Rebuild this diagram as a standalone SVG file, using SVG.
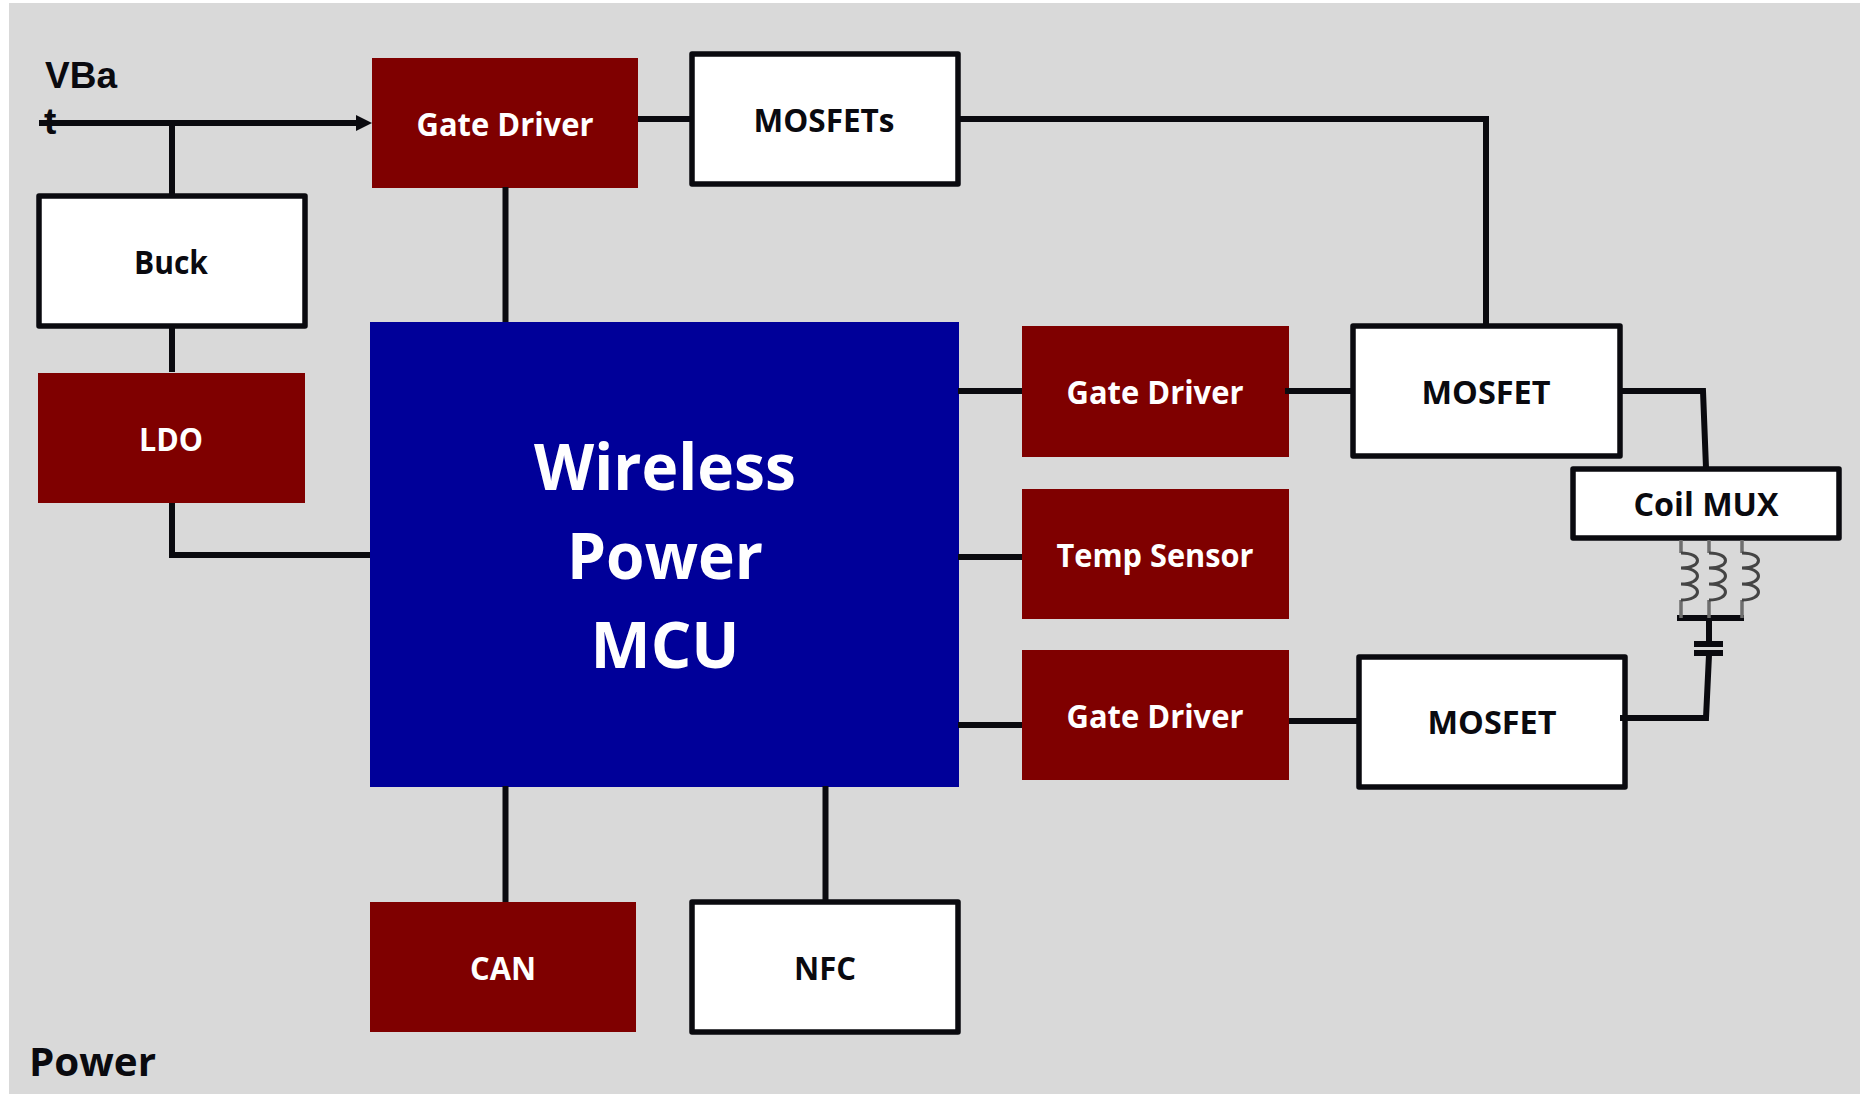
<svg xmlns="http://www.w3.org/2000/svg" width="1860" height="1094" viewBox="0 0 1860 1094">
<style>
.r{fill:#7f0000}
.w{fill:#fff;stroke:#0a0a0f;stroke-width:5.5;stroke-linejoin:round}
.t{font-family:"Open Sans","Noto Sans","Liberation Sans",sans-serif;font-weight:700;font-size:32px;text-anchor:middle}
.tw{fill:#fff}
.tk{fill:#0a0a0f}
.c{fill:none;stroke:#0a0a0f;stroke-width:6}
.g{fill:none;stroke:#6e6e6e;stroke-width:3.5}
.l{fill:none;stroke:#444;stroke-width:3}
</style>
<defs><marker id="a" markerUnits="userSpaceOnUse" markerWidth="16" markerHeight="16" refX="2" refY="8" orient="auto"><path d="M0 0L16 8L0 16z" fill="#0a0a0f"/></marker></defs>
<rect x="9" y="3" width="1851" height="1091" fill="#d9d9d9"/>
<g id="vbat"><text class="tk" x="45" y="88" font-family="Liberation Sans,sans-serif" font-weight="700" font-size="37">VBa</text><text class="tk" x="44" y="134" font-family="Liberation Sans,sans-serif" font-weight="700" font-size="37">t</text></g>
<g id="gd1"><rect class="r" x="372" y="58" width="266" height="130"/><text class="t tw" x="505" y="136" textLength="177" lengthAdjust="spacingAndGlyphs">Gate Driver</text></g>
<g id="mosfets"><rect class="w" x="692" y="54" width="266" height="130"/><text class="t tk" x="824" y="132" textLength="141" lengthAdjust="spacingAndGlyphs">MOSFETs</text></g>
<g id="buck"><rect class="w" x="39" y="196" width="266" height="130"/><text class="t tk" x="171" y="274" textLength="74" lengthAdjust="spacingAndGlyphs">Buck</text></g>
<g id="ldo"><rect class="r" x="38" y="373" width="267" height="130"/><text class="t tw" x="171" y="451" textLength="64" lengthAdjust="spacingAndGlyphs">LDO</text></g>
<g id="mcu"><rect x="370" y="322" width="589" height="465" fill="#000099"/><g class="t tw" style="font-size:64px"><text x="665" y="490" textLength="262" lengthAdjust="spacingAndGlyphs">Wireless</text><text x="665" y="579" textLength="196" lengthAdjust="spacingAndGlyphs">Power</text><text x="665" y="668" textLength="149" lengthAdjust="spacingAndGlyphs">MCU</text></g></g>
<g id="gd2"><rect class="r" x="1022" y="326" width="267" height="131"/><text class="t tw" x="1155" y="404" textLength="177" lengthAdjust="spacingAndGlyphs">Gate Driver</text></g>
<g id="temp"><rect class="r" x="1022" y="489" width="267" height="130"/><text class="t tw" x="1155" y="567" textLength="197" lengthAdjust="spacingAndGlyphs">Temp Sensor</text></g>
<g id="gd3"><rect class="r" x="1022" y="650" width="267" height="130"/><text class="t tw" x="1155" y="728" textLength="177" lengthAdjust="spacingAndGlyphs">Gate Driver</text></g>
<g id="mosfet1"><rect class="w" x="1353" y="326" width="267" height="130"/><text class="t tk" x="1486" y="404" textLength="129" lengthAdjust="spacingAndGlyphs">MOSFET</text></g>
<g id="coilmux"><rect class="w" x="1573" y="469" width="266" height="69"/><text class="t tk" x="1706" y="516" textLength="145" lengthAdjust="spacingAndGlyphs">Coil MUX</text></g>
<g id="mosfet2"><rect class="w" x="1359" y="657" width="266" height="130"/><text class="t tk" x="1492" y="734" textLength="129" lengthAdjust="spacingAndGlyphs">MOSFET</text></g>
<g id="can"><rect class="r" x="370" y="902" width="266" height="130"/><text class="t tw" x="503" y="980" textLength="66" lengthAdjust="spacingAndGlyphs">CAN</text></g>
<g id="nfc"><rect class="w" x="692" y="902" width="266" height="130"/><text class="t tk" x="825" y="980" textLength="62" lengthAdjust="spacingAndGlyphs">NFC</text></g>
<text class="t tk" x="29" y="1076" style="text-anchor:start;font-size:40px" textLength="127" lengthAdjust="spacingAndGlyphs">Power</text>
<g id="connectors">
<path class="c" d="M39 123H358" marker-end="url(#a)"/>
<path class="c" d="M172 123V196M172 326V372M172 503V555H370"/>
<path class="c" d="M638 119H692M956 119H1486V325"/>
<path class="c" d="M505.500 187V322M505.500 786V902M825.500 786V902"/>
<path class="c" d="M958 391H1022M958 557H1022M958 725H1022"/>
<path class="c" d="M1285 391H1352M1289 721H1358"/>
<path class="c" d="M1620 391H1703L1706 468"/>
<path class="c" d="M1620 718H1706L1709 655"/>
<path class="c" d="M1677 618H1744M1709 618V644"/>
<path class="c" d="M1694 644H1723M1694 653H1723"/>
<g id="coils">
<path class="g" d="M1681 540V553M1681 600V618M1709 540V553M1709 600V618M1742 540V553M1742 600V618"/>
<path class="l" d="M1681 553C1703 553 1703 568 1681 568C1703 568 1703 584 1681 584C1703 584 1703 600 1681 600"/>
<path class="l" d="M1709 553C1731 553 1731 568 1709 568C1731 568 1731 584 1709 584C1731 584 1731 600 1709 600"/>
<path class="l" d="M1742 553C1764 553 1764 568 1742 568C1764 568 1764 584 1742 584C1764 584 1764 600 1742 600"/>
</g>
</g>
</svg>
